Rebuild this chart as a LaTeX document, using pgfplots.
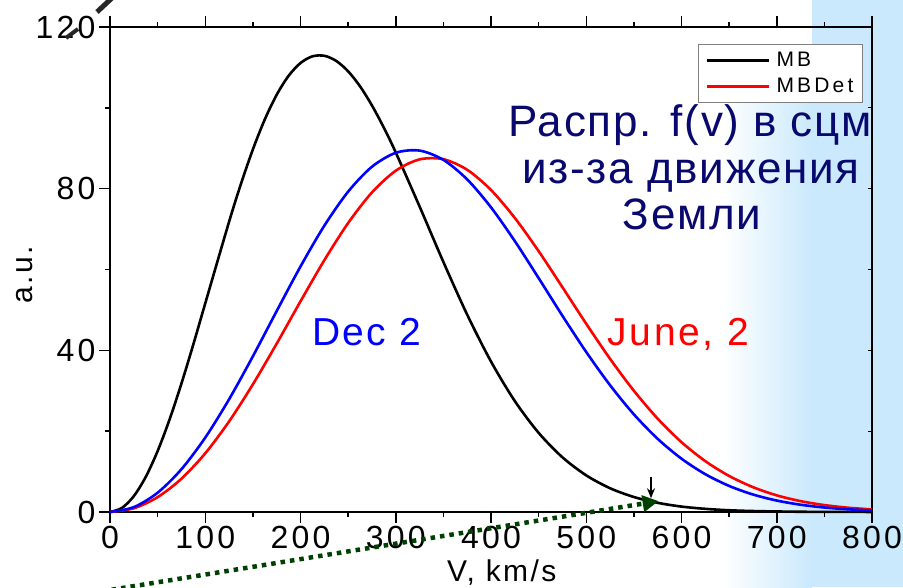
\documentclass[border=0pt]{standalone}
\usepackage{fontspec}
\setmainfont{Liberation Sans}
\usepackage{pgfplots}
\pgfplotsset{compat=1.18}
\usetikzlibrary{arrows.meta}
\definecolor{bgblue}{RGB}{202,233,252}
\definecolor{navy}{RGB}{8,8,110}
\definecolor{dgreen}{RGB}{0,64,0}
\newcommand{\legfont}{\fontsize{21}{25}\selectfont\addfontfeature{LetterSpace=15}}
\begin{document}
\begin{tikzpicture}
\fill[white] (0pt,0pt) rectangle (903pt,587pt);
\shade[left color=white,right color=bgblue] (722pt,0pt) rectangle (812pt,487pt);
\fill[bgblue] (812pt,0pt) rectangle (903pt,587pt);
\useasboundingbox (0pt,0pt) rectangle (903pt,587pt);
\begin{axis}[
 at={(110pt,75pt)}, anchor=south west,
 scale only axis, width=762pt, height=485pt,
 xmin=0,xmax=800,ymin=0,ymax=120,
 xtick={0,100,...,800}, ytick={0,40,80,120},
 minor x tick num=1, minor y tick num=1,
 tick align=outside, xtick pos=both, ytick pos=left, xticklabel pos=bottom,
 major tick length=11pt, minor tick length=5pt,
 every tick/.style={black, line width=1.5pt},
 axis line style={line width=1.8pt},
 tick label style={font=\fontsize{32}{38}\selectfont\addfontfeature{LetterSpace=10}},
 /pgf/number format/assume math mode=true,
 xlabel={V, km/s}, ylabel={a.u.},
 label style={font=\fontsize{30}{36}\selectfont\addfontfeature{LetterSpace=8}},
 xlabel style={at={(axis description cs:0.514,-0.1423)}, anchor=base},
 ylabel style={at={(axis description cs:-0.1115,0.489)}, anchor=center},
 legend cell align=left,
 legend style={at={(0.988,0.965)}, anchor=north east, draw=gray, line width=1pt,
   inner xsep=7pt, inner ysep=6pt, row sep=6pt, fill=white},
 legend image code/.code={\draw[#1] (0pt,0pt) -- (62pt,0pt); \path (66pt,0pt);},
 clip=false,
]
\addplot[black, line width=2.6pt, smooth, tension=0.5] coordinates {
(0,0) (12.5,0.99) (25,3.92) (37.5,8.67) (50,15.07) (62.5,22.87) (75,31.78) (87.5,41.48) (100,51.62) (125,71.80) (137.5,81.19) (150,89.71) (162.5,97.12) (175,103.23) (187.5,107.92) (200,111.09) (212.5,112.74) (225,112.88) (237.5,111.61) (250,109.04) (262.5,105.32) (275,100.60) (287.5,95.09) (300,88.96) (325,75.60) (350,61.87) (375,48.83) (400,37.23) (425,27.45) (450,19.59) (475,13.53) (500,9.06) (525,5.88) (550,3.71) (575,2.27) (600,1.34) (625,0.78) (650,0.43) (675,0.24) (700,0.13) (725,0.06) (750,0.03) (775,0.02) (800,0.01)
};
\addlegendentry{\legfont MB}
\addplot[red, line width=2.6pt, smooth, tension=0.5] coordinates {
(0,0) (25,0.92) (50,3.67) (75,8.23) (100,14.52) (125,22.40) (150,31.58) (175,41.66) (200,52.12) (225,62.29) (250,71.49) (275,79.06) (300,84.44) (325,87.24) (350,87.29) (375,84.67) (400,79.67) (425,72.76) (450,64.54) (475,55.61) (500,46.56) (525,37.90) (550,30.00) (575,23.09) (600,17.28) (625,12.58) (650,8.92) (675,6.15) (700,4.12) (725,2.69) (750,1.71) (775,1.06) (800,0.64)
};
\addlegendentry{\legfont MBDet}
\addplot[blue, line width=2.6pt, smooth, tension=0.5, forget plot] coordinates {
(0,0) (25,1.20) (50,4.77) (75,10.58) (100,18.40) (125,27.88) (150,38.52) (175,49.72) (200,60.74) (225,70.83) (250,79.26) (275,85.42) (300,88.87) (325,89.42) (350,87.13) (375,82.29) (400,75.38) (425,67.03) (450,57.88) (475,48.55) (500,39.58) (525,31.37) (550,24.16) (575,18.10) (600,13.19) (625,9.35) (650,6.45) (675,4.33) (700,2.83) (725,1.80) (750,1.11) (775,0.67) (800,0.39)
};
\draw[line width=1.2pt] (axis cs:800,20) -- ++(-4pt,0pt);
\draw[line width=1.2pt] (axis cs:800,40) -- ++(-4pt,0pt);
\draw[line width=1.2pt] (axis cs:800,60) -- ++(-4pt,0pt);
\draw[line width=1.2pt] (axis cs:800,80) -- ++(-4pt,0pt);
\draw[line width=1.2pt] (axis cs:800,100) -- ++(-4pt,0pt);
\node[anchor=base, text=navy, font=\fontsize{44}{46}\selectfont\addfontfeature{LetterSpace=4}] at (axis cs:609,92.8) {Распр. f(v) в сцм};
\node[anchor=base, text=navy, font=\fontsize{44}{46}\selectfont\addfontfeature{LetterSpace=4}] at (axis cs:610,81.4) {из-за движения};
\node[anchor=base, text=navy, font=\fontsize{44}{46}\selectfont\addfontfeature{LetterSpace=4}] at (axis cs:611,69.8) {Земли};
\node[anchor=base west, inner sep=0pt, text=blue, font=\fontsize{39}{44}\selectfont\addfontfeature{LetterSpace=6}] at (axis cs:212,41.3) {Dec 2};
\node[anchor=base west, inner sep=0pt, text=red, font=\fontsize{39}{44}\selectfont\addfontfeature{LetterSpace=7}] at (axis cs:522,41.3) {June, 2};
\draw[dgreen, line width=4.5pt, dash pattern=on 4.5pt off 5pt, -{Triangle[length=16pt,width=16pt]}] (axis cs:-8,-19.6) -- (axis cs:576,2.7);
\draw[black, line width=1.5pt, -{Stealth[length=10pt,width=8pt]}] (axis cs:568,8.7) -- (axis cs:568,3.4);
\end{axis}
\draw[line width=5pt, black!85] (97pt,575pt) -- (112pt,589pt);
\draw[line width=4pt, black!85] (66pt,549pt) -- (78pt,558pt);
\end{tikzpicture}
\end{document}
